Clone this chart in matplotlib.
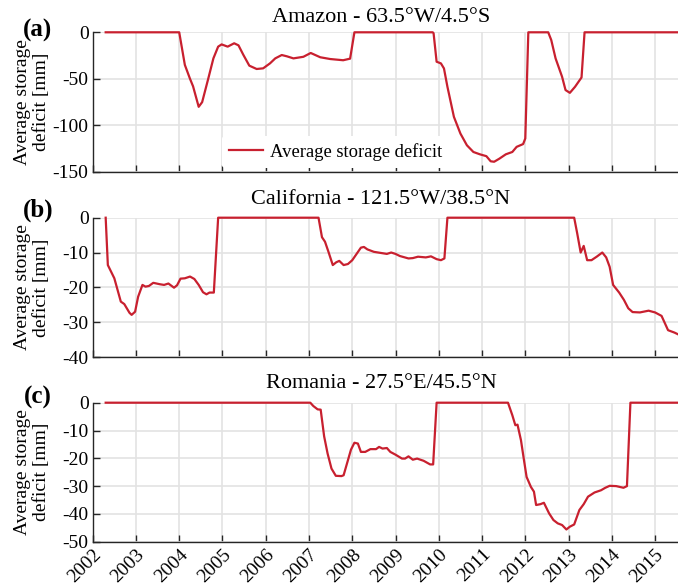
import numpy as np
import matplotlib
matplotlib.use("Agg")
import matplotlib.pyplot as plt

# digitised monthly storage deficit [mm], time in decimal years
amazon_t = [2002.30, 2004.00, 2004.13, 2004.25, 2004.32, 2004.45, 2004.53, 2004.67, 2004.79,
            2004.90, 2004.98, 2005.12, 2005.27, 2005.37, 2005.48, 2005.62, 2005.79, 2005.94,
            2006.10, 2006.22, 2006.37, 2006.49, 2006.64, 2006.87, 2007.04, 2007.26, 2007.49,
            2007.79, 2007.95, 2008.05, 2009.86, 2009.88, 2009.95, 2010.05, 2010.12, 2010.20,
            2010.35, 2010.50, 2010.65, 2010.80, 2010.95, 2011.10, 2011.20, 2011.28, 2011.40,
            2011.55, 2011.70, 2011.80, 2011.95, 2012.00, 2012.07, 2012.53, 2012.60, 2012.70,
            2012.85, 2012.93, 2013.03, 2013.15, 2013.30, 2013.37, 2015.55]
amazon_v = [0, 0, -35, -50, -58, -80, -75, -50, -28,
            -15.4, -13, -15.4, -11.8, -14, -24, -35.8, -39.4, -38.7,
            -33.3, -28, -24.4, -25.8, -28, -26.3, -22.2, -26.8, -28.7,
            -30, -28.3, 0, 0, -1, -31.6, -33.4, -38.8, -58.5,
            -90.8, -108.7, -121.3, -128.5, -131, -133, -138.5, -139, -135.7,
            -131, -128.5, -123, -120, -114, 0, 0, -8.3, -28,
            -47.7, -62, -65, -58.5, -48.5, 0, 0]

calif_t = [2002.30, 2002.35, 2002.50, 2002.65, 2002.73, 2002.85, 2002.90, 2002.98, 2003.05,
           2003.15, 2003.22, 2003.30, 2003.40, 2003.55, 2003.65, 2003.75, 2003.88, 2003.95,
           2004.03, 2004.13, 2004.25, 2004.35, 2004.45, 2004.55, 2004.63, 2004.70, 2004.80,
           2004.90, 2007.22, 2007.30, 2007.37, 2007.45, 2007.55, 2007.63, 2007.70, 2007.80,
           2007.90, 2008.00, 2008.10, 2008.20, 2008.27, 2008.35, 2008.50, 2008.70, 2008.80,
           2008.90, 2009.00, 2009.10, 2009.30, 2009.40, 2009.52, 2009.70, 2009.82, 2009.95,
           2010.05, 2010.13, 2010.20, 2013.13, 2013.20, 2013.28, 2013.35, 2013.43, 2013.53,
           2013.65, 2013.78, 2013.87, 2013.95, 2014.03, 2014.17, 2014.28, 2014.38, 2014.48,
           2014.65, 2014.85, 2015.00, 2015.15, 2015.30, 2015.45, 2015.55]
calif_v = [0, -13.6, -17.4, -24.1, -24.8, -27.3, -27.9, -27, -22.7,
           -19.3, -19.8, -19.6, -18.7, -19.1, -19.3, -18.9, -20.1, -19.4,
           -17.5, -17.4, -16.9, -17.6, -19.3, -21.4, -22, -21.5, -21.5,
           0, 0, -5.6, -6.9, -9.8, -13.6, -12.8, -12.4, -13.6,
           -13.3, -12.2, -10.4, -8.6, -8.4, -9.1, -9.8, -10.2, -10.4,
           -10, -10.4, -11, -11.7, -11.6, -11.2, -11.4, -11.1, -11.9,
           -12.2, -11.7, 0, 0, -4.5, -10, -8.1, -12.2, -12.2,
           -11.2, -10, -11.4, -14.1, -19.3, -21.5, -23.6, -26, -27.1,
           -27.2, -26.7, -27.2, -28.2, -32.3, -33, -33.6]

roman_t = [2002.30, 2007.03, 2007.10, 2007.20, 2007.27, 2007.35, 2007.43, 2007.52, 2007.62,
           2007.75, 2007.80, 2007.90, 2007.97, 2008.05, 2008.13, 2008.20, 2008.30, 2008.42,
           2008.55, 2008.62, 2008.70, 2008.80, 2008.88, 2009.00, 2009.15, 2009.22, 2009.30,
           2009.40, 2009.50, 2009.65, 2009.80, 2009.87, 2009.95, 2011.60, 2011.70, 2011.77,
           2011.82, 2011.90, 2011.97, 2012.03, 2012.13, 2012.20, 2012.25, 2012.35, 2012.43,
           2012.55, 2012.65, 2012.75, 2012.85, 2012.95, 2013.03, 2013.13, 2013.25, 2013.35,
           2013.45, 2013.60, 2013.75, 2013.85, 2013.95, 2014.10, 2014.27, 2014.35, 2014.43,
           2015.55]
roman_v = [0, 0, -1.2, -2.4, -2.5, -12.1, -18.3, -23.7, -26.3,
           -26.4, -26.1, -20.7, -16.9, -14.4, -14.7, -17.7, -17.7, -16.7,
           -16.7, -15.9, -16.5, -16.3, -17.7, -18.7, -20.1, -20.1, -19.3,
           -20.5, -20.1, -20.9, -22.2, -22.2, 0, 0, -4.5, -8.1,
           -7.9, -13.5, -20.7, -26.7, -30.3, -32, -36.8, -36.5, -36,
           -39.8, -42.2, -43.4, -44, -45.6, -44.6, -43.8, -38.6, -36.5,
           -33.8, -32.3, -31.5, -30.6, -29.9, -30, -30.6, -30, 0,
           0]

titles = ["Amazon - 63.5°W/4.5°S", "California - 121.5°W/38.5°N", "Romania - 27.5°E/45.5°N"]
letters = ["(a)", "(b)", "(c)"]
ylims = [(-150, 0), (-40, 0), (-50, 0)]
ysteps = [50, 10, 10]
years = list(range(2002, 2016))

plt.rcParams["font.family"] = ["Liberation Serif", "DejaVu Serif"]
plt.rcParams["axes.unicode_minus"] = False

W, H = 678, 586
fig = plt.figure(figsize=(W / 100, H / 100), dpi=100)

left_px = 92.7
tops = [32.3, 217.7, 402.7]
bottoms = [172.0, 357.0, 541.7]
letter_y = [30, 210, 397]
title_y = [17, 200, 383]
red = "#c8202f"

series = [(amazon_t, amazon_v), (calif_t, calif_v), (roman_t, roman_v)]

for i, (t, v) in enumerate(series):
    ax = fig.add_axes([left_px / W, 1 - bottoms[i] / H, (W - left_px) / W,
                       (bottoms[i] - tops[i]) / H])
    ax.plot(t, v, color=red, lw=1.6, label="Average storage deficit", zorder=3, clip_on=False)
    ax.set_xlim(2002, 2015.53)
    ax.set_ylim(*ylims[i])
    ax.set_xticks(years)
    ax.set_yticks(np.arange(ylims[i][0], 1, ysteps[i]))
    ax.grid(True, color="#e3e3e3", lw=1.2)
    ax.set_axisbelow(True)
    for s in ["top", "right"]:
        ax.spines[s].set_visible(False)
    for s in ["left", "bottom"]:
        ax.spines[s].set_color("#262626")
        ax.spines[s].set_linewidth(1.0)
    ax.tick_params(direction="in", length=5, width=1.0, color="#262626",
                   labelsize=14, pad=3)
    if i < 2:
        ax.set_xticklabels([])
    else:
        ax.set_xticklabels([str(y) for y in years], rotation=45, ha="right",
                           rotation_mode="anchor")
    ax.set_ylabel("Average storage\ndeficit [mm]", fontsize=14, linespacing=1.15)
    ax.yaxis.set_label_coords(-0.073, 0.5)
    ax.text((381 - left_px) / (W - left_px), 1 + (tops[i] - title_y[i]) / (bottoms[i] - tops[i]),
            titles[i], transform=ax.transAxes, ha="center", va="center", fontsize=16)
    fig.text(38 / W, 1 - letter_y[i] / H, letters[i], ha="center", va="center",
             fontsize=18, fontweight="bold")
    if i == 0:
        leg = ax.legend(loc="lower left", bbox_to_anchor=(0.205, -0.04), fontsize=13.4,
                        frameon=True, handlelength=1.8, handletextpad=0.4,
                        borderpad=0.4)
        leg.get_frame().set_edgecolor("none")
        leg.get_frame().set_facecolor("white")
        leg.get_frame().set_alpha(1.0)

fig.savefig("out.png", dpi=100)
